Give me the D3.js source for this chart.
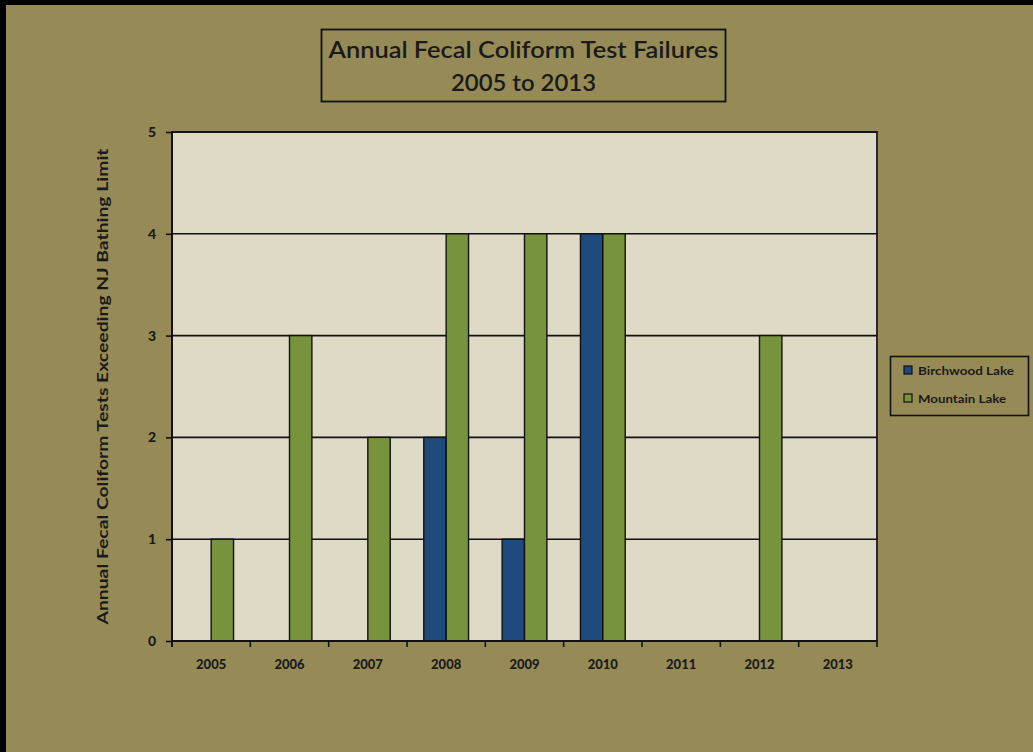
<!DOCTYPE html>
<html>
<head>
<meta charset="utf-8">
<script src="https://cdn.jsdelivr.net/npm/d3@7"></script>
<style>
  html, body { margin: 0; padding: 0; background: #968b56; }
  svg { display: block; }
  text { font-family: "Lato", "Open Sans", sans-serif; fill: #1a1a1a; }
</style>
</head>
<body>
<svg id="chart" width="1033" height="752"></svg>
<script>
// Annual fecal coliform test failures per lake
const years = ["2005", "2006", "2007", "2008", "2009", "2010", "2011", "2012", "2013"];
const birchwood = [0, 0, 0, 2, 1, 4, 0, 0, 0];
const mountain = [1, 3, 2, 4, 4, 4, 0, 3, 0];
const seriesNames = ["Birchwood Lake", "Mountain Lake"];
const seriesColors = ["#1f4a7e", "#77933c"];
const yTicks = [0, 1, 2, 3, 4, 5];

const svg = d3.select("#chart");
const W = 1033, H = 752;

// page background with heavy top/left edge
svg.append("rect").attr("width", W).attr("height", H).attr("fill", "#968b56");
svg.append("rect").attr("x", 0).attr("y", 0).attr("width", W).attr("height", 5).attr("fill", "#000");
svg.append("rect").attr("x", 0).attr("y", 0).attr("width", 6).attr("height", H).attr("fill", "#000");

const plot = { left: 172, right: 877, top: 132, bottom: 641 };

const x = d3.scaleBand().domain(years).range([plot.left, plot.right]).paddingInner(0).paddingOuter(0);
const inner = d3.scaleBand().domain(seriesNames).range([0, x.bandwidth()]).paddingInner(0).paddingOuter(0.75);
const y = d3.scaleLinear().domain([0, 5]).range([plot.bottom, plot.top]);

// plot area
svg.append("rect")
  .attr("x", plot.left).attr("y", plot.top)
  .attr("width", plot.right - plot.left).attr("height", plot.bottom - plot.top)
  .attr("fill", "#dfdac6")
  .attr("stroke", "#2a2a2a").attr("stroke-width", 2);

// horizontal gridlines
svg.append("g").selectAll("line").data(yTicks.filter(d => d > 0)).join("line")
  .attr("x1", plot.left).attr("x2", plot.right)
  .attr("y1", d => y(d)).attr("y2", d => y(d))
  .attr("stroke", "#111").attr("stroke-width", 1.6);

// bars
const rows = years.map((yr, i) => ({ year: yr, values: [birchwood[i], mountain[i]] }));
const groups = svg.append("g").selectAll("g").data(rows).join("g")
  .attr("transform", d => `translate(${x(d.year)},0)`);
groups.selectAll("rect")
  .data(d => d.values.map((v, k) => ({ v, k })).filter(e => e.v > 0))
  .join("rect")
  .attr("x", e => inner(seriesNames[e.k]))
  .attr("width", inner.bandwidth())
  .attr("y", e => y(e.v))
  .attr("height", e => y(0) - y(e.v))
  .attr("fill", e => seriesColors[e.k])
  .attr("stroke", "#111").attr("stroke-width", 1.4);

// y axis
const yAxis = svg.append("g")
  .attr("transform", `translate(${plot.left},0)`)
  .call(d3.axisLeft(y).tickValues(yTicks).tickFormat(d3.format("d")).tickSize(6).tickPadding(10));
yAxis.select(".domain").attr("stroke", "#111").attr("stroke-width", 2)
  .attr("d", `M0,${plot.top}V${plot.bottom + 6}`);
yAxis.selectAll(".tick line").attr("stroke", "#111").attr("stroke-width", 1.6);
yAxis.selectAll(".tick text")
  .style("font-family", "Lato, sans-serif").style("font-weight", "900")
  .style("font-size", "14px").attr("fill", "#1a1a1a");

// x axis: ticks on category boundaries, labels centred under each category
const xAxisG = svg.append("g").attr("transform", `translate(0,${plot.bottom})`);
xAxisG.append("line")
  .attr("x1", plot.left).attr("x2", plot.right)
  .attr("stroke", "#111").attr("stroke-width", 2);
const boundaries = years.map(d => x(d)).concat([plot.right]);
xAxisG.selectAll("line.tick").data(boundaries).join("line")
  .attr("class", "tick")
  .attr("x1", d => d).attr("x2", d => d)
  .attr("y1", 0).attr("y2", 6)
  .attr("stroke", "#111").attr("stroke-width", 1.6);
xAxisG.selectAll("text").data(years).join("text")
  .attr("x", d => x(d) + x.bandwidth() / 2)
  .attr("y", 28)
  .attr("text-anchor", "middle")
  .style("font-weight", "900").style("font-size", "13px")
  .text(d => d);

// y axis title
svg.append("text")
  .attr("transform", `translate(108,${(plot.top + plot.bottom) / 2}) rotate(-90)`)
  .attr("text-anchor", "middle")
  .attr("textLength", 476).attr("lengthAdjust", "spacingAndGlyphs")
  .style("font-weight", "bold").style("font-size", "16px")
  .text("Annual Fecal Coliform Tests Exceeding NJ Bathing Limit");

// chart title box
svg.append("rect")
  .attr("x", 321.5).attr("y", 29.5).attr("width", 404).attr("height", 72)
  .attr("fill", "none").attr("stroke", "#111").attr("stroke-width", 1.8);
const title = svg.append("text").attr("text-anchor", "middle")
  .style("font-size", "23px").style("font-weight", "600");
title.append("tspan").attr("x", 523.5).attr("y", 58)
  .attr("textLength", 390).attr("lengthAdjust", "spacingAndGlyphs")
  .text("Annual Fecal Coliform Test Failures");
title.append("tspan").attr("x", 523.5).attr("y", 91)
  .attr("textLength", 145).attr("lengthAdjust", "spacingAndGlyphs")
  .text("2005 to 2013");

// legend
const legend = svg.append("g").attr("transform", "translate(890,356)");
legend.append("rect").attr("x", 0.5).attr("y", 0.5).attr("width", 138).attr("height", 59)
  .attr("fill", "none").attr("stroke", "#111").attr("stroke-width", 1.6);
const items = legend.selectAll("g").data(seriesNames).join("g")
  .attr("transform", (d, i) => `translate(14,${10 + i * 28})`);
items.append("rect").attr("width", 8).attr("height", 8)
  .attr("fill", (d, i) => seriesColors[i]).attr("stroke", "#111").attr("stroke-width", 1.2);
items.append("text").attr("x", 14).attr("y", 8.5)
  .attr("textLength", (d, i) => i === 0 ? 96 : 88).attr("lengthAdjust", "spacingAndGlyphs")
  .style("font-weight", "bold").style("font-size", "12px")
  .text(d => d);
</script>
</body>
</html>
